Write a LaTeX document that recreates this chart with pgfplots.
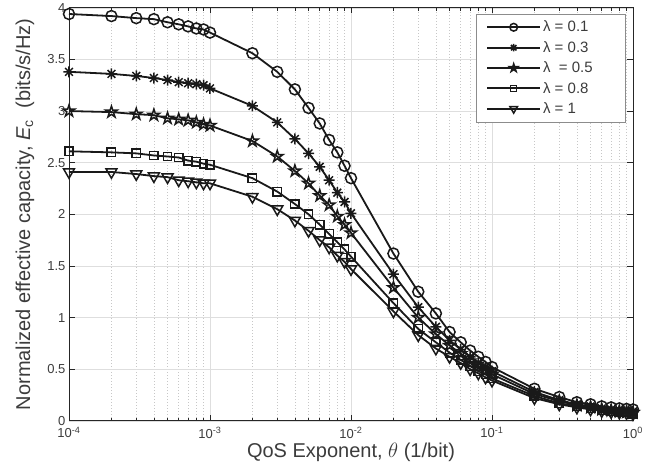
\documentclass[border=0pt]{standalone}
\usepackage{fontspec}
\setmainfont{Liberation Sans}
\usepackage{pgfplots}
\pgfplotsset{compat=1.18}
\usepackage{pgfplotstable}
\definecolor{axcol}{RGB}{38,38,38}
\definecolor{txtcol}{RGB}{60,60,60}
\definecolor{lncol}{RGB}{25,25,25}

\pgfdeclareplotmark{ast8}{%
  \pgfpathmoveto{\pgfqpoint{-\pgfplotmarksize}{0pt}}\pgfpathlineto{\pgfqpoint{\pgfplotmarksize}{0pt}}%
  \pgfpathmoveto{\pgfqpoint{0pt}{-\pgfplotmarksize}}\pgfpathlineto{\pgfqpoint{0pt}{\pgfplotmarksize}}%
  \pgfpathmoveto{\pgfqpoint{-0.707\pgfplotmarksize}{-0.707\pgfplotmarksize}}\pgfpathlineto{\pgfqpoint{0.707\pgfplotmarksize}{0.707\pgfplotmarksize}}%
  \pgfpathmoveto{\pgfqpoint{-0.707\pgfplotmarksize}{0.707\pgfplotmarksize}}\pgfpathlineto{\pgfqpoint{0.707\pgfplotmarksize}{-0.707\pgfplotmarksize}}%
  \pgfusepathqstroke}
\pgfdeclareplotmark{pentagram}{%
  \pgfpathmoveto{\pgfpointpolar{90}{\pgfplotmarksize}}%
  \pgfpathlineto{\pgfpointscale{0.382}{\pgfpointpolar{126}{\pgfplotmarksize}}}%
  \pgfpathlineto{\pgfpointpolar{162}{\pgfplotmarksize}}%
  \pgfpathlineto{\pgfpointscale{0.382}{\pgfpointpolar{198}{\pgfplotmarksize}}}%
  \pgfpathlineto{\pgfpointpolar{234}{\pgfplotmarksize}}%
  \pgfpathlineto{\pgfpointscale{0.382}{\pgfpointpolar{270}{\pgfplotmarksize}}}%
  \pgfpathlineto{\pgfpointpolar{306}{\pgfplotmarksize}}%
  \pgfpathlineto{\pgfpointscale{0.382}{\pgfpointpolar{342}{\pgfplotmarksize}}}%
  \pgfpathlineto{\pgfpointpolar{18}{\pgfplotmarksize}}%
  \pgfpathlineto{\pgfpointscale{0.382}{\pgfpointpolar{54}{\pgfplotmarksize}}}%
  \pgfpathclose
  \pgfusepathqstroke}

\pgfplotstableread{
x      a      b      c      d      e
0.0001 3.94   3.38   3.00   2.61   2.41
0.0002 3.92   3.36   2.99   2.60   2.41
0.0003 3.90   3.34   2.97   2.59   2.39
0.0004 3.89   3.32   2.96   2.57   2.37
0.0005 3.86   3.30   2.93   2.56   2.36
0.0006 3.84   3.28   2.92   2.55   2.33
0.0007 3.82   3.27   2.91   2.52   2.32
0.0008 3.80   3.26   2.89   2.51   2.31
0.0009 3.79   3.25   2.87   2.49   2.30
0.001  3.76   3.22   2.86   2.48   2.30
0.002  3.56   3.05   2.71   2.35   2.17
0.003  3.38   2.89   2.56   2.22   2.05
0.004  3.21   2.73   2.42   2.10   1.94
0.005  3.03   2.59   2.30   2.00   1.84
0.006  2.88   2.46   2.18   1.90   1.75
0.007  2.72   2.33   2.09   1.81   1.68
0.008  2.60   2.21   1.98   1.73   1.60
0.009  2.47   2.12   1.90   1.66   1.54
0.01   2.35   2.01   1.82   1.59   1.47
0.02   1.62   1.42   1.29   1.14   1.06
0.03   1.25   1.10   1.00   0.89   0.83
0.04   1.04   0.91   0.84   0.76   0.70
0.05   0.86   0.78   0.73   0.66   0.62
0.06   0.76   0.69   0.65   0.59   0.56
0.07   0.68   0.62   0.58   0.53   0.50
0.08   0.62   0.56   0.53   0.48   0.46
0.09   0.57   0.52   0.49   0.45   0.42
0.1    0.52   0.48   0.45   0.41   0.39
0.2    0.31   0.28   0.26   0.24   0.22
0.3    0.23   0.20   0.19   0.17   0.16
0.4    0.18   0.16   0.15   0.14   0.13
0.5    0.16   0.14   0.13   0.12   0.11
0.6    0.14   0.12   0.11   0.10   0.095
0.7    0.13   0.11   0.10   0.09   0.085
0.8    0.12   0.10   0.09   0.085  0.08
0.9    0.115  0.095  0.085  0.08   0.075
1      0.11   0.09   0.08   0.07   0.065
}\datatable

\begin{document}
\begin{tikzpicture}
\begin{semilogxaxis}[
  name=ax,
  scale only axis,
  width=564pt, height=413pt,
  xmin=1e-4, xmax=1, ymin=0, ymax=4,
  clip=false,
  axis line style={axcol, line width=0.7pt},
  every tick/.style={axcol, line width=0.7pt},
  tick align=inside,
  major tick length=5.6pt,
  minor tick length=3pt,
  xtick={1e-4,1e-3,1e-2,1e-1,1},
  xticklabels={10\textsuperscript{-4},10\textsuperscript{-3},10\textsuperscript{-2},10\textsuperscript{-1},10\textsuperscript{0}},
  ytick={0,0.5,1,1.5,2,2.5,3,3.5,4},
  yticklabels={0,0.5,1,1.5,2,2.5,3,3.5,4},
  ticklabel style={font=\fontsize{13}{15}\selectfont, text=txtcol},
  xticklabel style={yshift=-3pt},
  xmajorgrids, ymajorgrids, xminorgrids,
  major grid style={color=black!13, line width=0.6pt},
  minor grid style={color=black!22, line width=0.6pt, dash pattern=on 1pt off 2pt},
  xlabel={QoS Exponent, $\theta$ (1/bit)},
  ylabel={Normalized effective capacity, \textit{E}\textsubscript{c}\ \ (bits/s/Hz)},
  label style={font=\fontsize{20}{24}\selectfont, text=txtcol},
  xlabel style={at={(axis description cs:0.5,-0.0896)}, anchor=base},
  ylabel style={at={(axis description cs:-0.0691,0.5)}, anchor=base},
  legend style={at={(axis description cs:0.9876,0.9855)}, anchor=north east,
    font=\fontsize{15}{18}\selectfont, text=txtcol, draw=black!45, line width=0.6pt,
    inner xsep=10pt, inner ysep=5pt, row sep=4pt},
  legend cell align=left,
  legend image code/.code={\draw[mark repeat=2,mark phase=2,mark size=0.7*\pgfplotmarksize]
     plot coordinates {(0pt,0pt) (26.5pt,0pt) (53pt,0pt)};},
]
\addplot[lncol, line width=1.8pt, mark=o, mark size=5.5pt, mark options={solid, line width=1.5pt}] table[x=x,y=a]{\datatable};
\addlegendentry{λ = 0.1}
\addplot[lncol, line width=1.8pt, mark=ast8, mark size=5.5pt, mark options={solid, line width=1.5pt}] table[x=x,y=b]{\datatable};
\addlegendentry{λ = 0.3}
\addplot[lncol, line width=1.8pt, mark=pentagram, mark size=6pt, mark options={solid, line width=1.5pt}] table[x=x,y=c]{\datatable};
\addlegendentry{λ \ = 0.5\hspace*{21pt}}
\addplot[lncol, line width=1.8pt, mark=square, mark size=4.2pt, mark options={solid, line width=1.5pt}] table[x=x,y=d]{\datatable};
\addlegendentry{λ = 0.8}
\addplot[lncol, line width=1.8pt, mark=triangle, mark size=6.3pt, mark options={solid, line width=1.5pt, rotate=180}] table[x=x,y=e]{\datatable};
\addlegendentry{λ = 1}
\end{semilogxaxis}
\path ([xshift=-69pt,yshift=-51pt]ax.south west) rectangle ([xshift=24pt,yshift=4pt]ax.north east);
\end{tikzpicture}
\end{document}
